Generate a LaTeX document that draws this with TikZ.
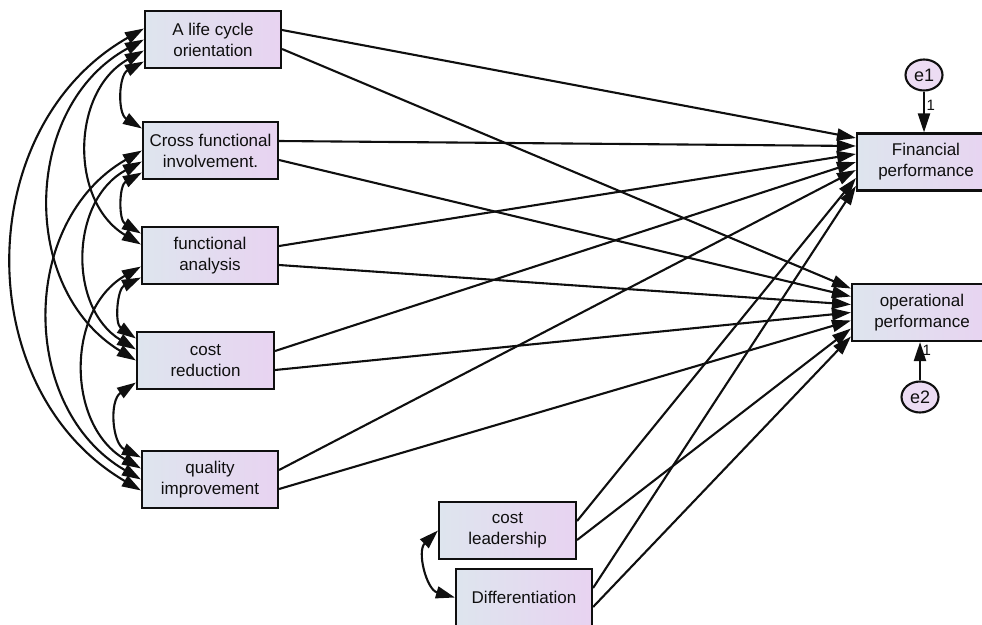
\documentclass[tikz,border=0pt]{standalone}
\usepackage{fontspec}
\setmainfont{Liberation Sans}
\usetikzlibrary{arrows.meta,shapes.geometric}
\definecolor{boxleft}{RGB}{222,229,238}
\definecolor{boxright}{RGB}{232,211,241}
\definecolor{errfill}{RGB}{236,220,243}
\definecolor{ink}{RGB}{15,15,15}

\begin{document}
\begin{tikzpicture}[x=1pt,y=-1pt,
  var/.style={draw=ink, line width=2.1pt, left color=boxleft, right color=boxright,
    minimum width=136pt, minimum height=57pt, inner sep=0pt, align=center,
    font=\fontsize{17}{21}\selectfont, text=ink},
  err/.style={draw=ink, line width=2.1pt, fill=errfill, ellipse,
    minimum width=37pt, minimum height=31pt, inner sep=0pt,
    font=\fontsize{18}{21}\selectfont, text=ink},
  regr/.style={draw=ink, line width=2.1pt, -{Triangle[length=19pt,width=12pt]}},
  cov/.style={draw=ink, line width=2.1pt,
    {Triangle[length=19pt,width=12pt]}-{Triangle[length=19pt,width=12pt]},
    bend right=60, looseness=1.1},
  wt/.style={font=\fontsize{15}{17}\selectfont, text=ink, inner sep=1.5pt}
]
\useasboundingbox (0,0) rectangle (982,624);
\clip (0,0) rectangle (982,624);

% observed variables
\node[var] (A) at (213,39.5)   {A life cycle\\orientation};
\node[var, minimum width=135pt] (C) at (210.5,150.5) {Cross functional\\involvement.};
\node[var] (F) at (210,255.5)  {functional\\analysis};
\node[var, minimum width=137pt] (R) at (205.5,360.5) {cost\\reduction};
\node[var] (Q) at (210,479.5)  {quality\\improvement};
\node[var, minimum width=137pt] (CL) at (507.5,530.5) {cost\\leadership};
\node[var] (D) at (524,597.5)  {Differentiation};
\node[var, minimum width=138pt] (FP) at (926,162)   {Financial\\performance};
\node[var, minimum width=140pt] (OP) at (922,312.5) {operational\\performance};

% error terms
\node[err] (e1) at (924,75)  {e1};
\node[err] (e2) at (920,397) {e2};
\draw[regr] (e1) -- (e1 |- FP.north) node[wt, right, pos=0.33] {1};
\draw[regr] (e2) -- (e2 |- OP.south) node[wt, right, pos=0.78] {1};

% paths to financial performance
\draw[regr] ([yshift=9.5pt]A.east)  -- ([yshift=24pt]FP.west);
\draw[regr] ([yshift=9.5pt]C.east)  -- ([yshift=16pt]FP.west);
\draw[regr] ([yshift=9.5pt]F.east)  -- ([yshift=8pt]FP.west);
\draw[regr] ([yshift=9.5pt]R.east)  -- (FP.west);
\draw[regr] ([yshift=9.5pt]Q.east)  -- ([yshift=-8pt]FP.west);
\draw[regr] ([yshift=9.5pt]CL.east) -- ([yshift=-16pt]FP.west);
\draw[regr] ([yshift=9.5pt]D.east)  -- ([yshift=-24pt]FP.west);

% paths to operational performance
\draw[regr] ([yshift=-9.5pt]A.east)  -- ([yshift=24pt]OP.west);
\draw[regr] ([yshift=-9.5pt]C.east)  -- ([yshift=16pt]OP.west);
\draw[regr] ([yshift=-9.5pt]F.east)  -- ([yshift=8pt]OP.west);
\draw[regr] ([yshift=-9.5pt]R.east)  -- (OP.west);
\draw[regr] ([yshift=-9.5pt]Q.east)  -- ([yshift=-8pt]OP.west);
\draw[regr] ([yshift=-9.5pt]CL.east) -- ([yshift=-16pt]OP.west);
\draw[regr] ([yshift=-9.5pt]D.east)  -- ([yshift=-24pt]OP.west);

% covariances among the practice variables
\draw[cov] ([yshift=-22pt]A.west) to ([yshift=22pt]C.west);
\draw[cov] ([yshift=-11pt]A.west) to ([yshift=11pt]F.west);
\draw[cov] (A.west) to (R.west);
\draw[cov] ([yshift=11pt]A.west) to ([yshift=-11pt]Q.west);
\draw[cov] ([yshift=-22pt]C.west) to ([yshift=22pt]F.west);
\draw[cov] ([yshift=-11pt]C.west) to ([yshift=11pt]R.west);
\draw[cov] (C.west) to (Q.west);
\draw[cov] ([yshift=-22pt]F.west) to ([yshift=22pt]R.west);
\draw[cov] ([yshift=-11pt]F.west) to ([yshift=11pt]Q.west);
\draw[cov] ([yshift=-22pt]R.west) to ([yshift=22pt]Q.west);

% covariance between the strategy variables
\draw[cov] (CL.west) to (D.west);
\end{tikzpicture}
\end{document}
